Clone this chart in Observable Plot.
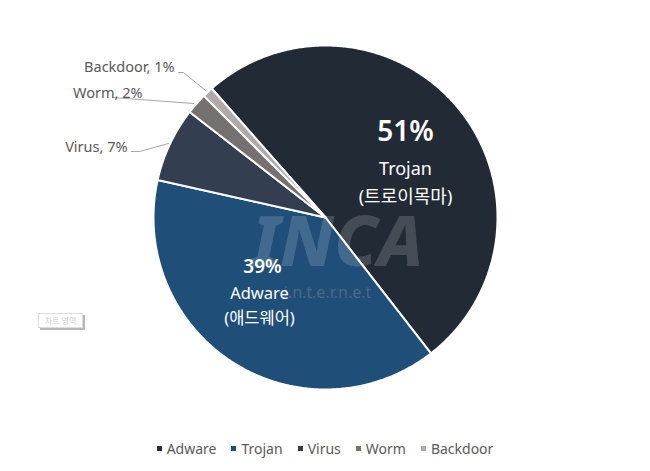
<!DOCTYPE html>
<html><head><meta charset="utf-8">
<script src="https://cdn.jsdelivr.net/npm/d3@7"></script>
<script src="https://cdn.jsdelivr.net/npm/@observablehq/plot@0.6"></script>
<style>
body{margin:0;background:#fff;font-family:"Noto Sans","Noto Sans CJK KR",sans-serif;}
#wrap{position:relative;width:650px;height:471px;overflow:hidden;}
#legend{position:absolute;left:0;top:437px;width:650px;height:22px;display:flex;justify-content:center;align-items:center;gap:15px;font-size:14px;color:#595959;}
#legend .it{display:flex;align-items:center;}
#legend .sw{width:5px;height:5px;margin-right:5px;display:inline-block;}
#tip{position:absolute;left:38px;top:313px;width:43px;height:13px;border:1px solid #dcdcdc;box-shadow:2px 2px 0 #b8b8b8;font-size:8px;line-height:13px;color:#cfcfcf;text-align:center;background:#fff;}
g[aria-label="watermark-sub"] text{letter-spacing:5px;}
</style></head>
<body>
<div id="wrap"><div id="chart"></div><div id="legend"></div><div id="tip">차트 영역</div></div>
<script>
// ---- data ----
const categories = ["Trojan", "Adware", "Virus", "Worm", "Backdoor"];
const shares = [51, 39, 7, 2, 1];
const koreanNames = ["(트로이목마)", "(애드웨어)", "", "", ""];
const sliceColors = ["#222a35", "#1f4e79", "#333f50", "#767171", "#aeaaaa"];
const legendLabels = ["Adware", "Trojan", "Virus", "Worm", "Backdoor"];
const legendColors = ["#222a35", "#1f4e79", "#333f50", "#767171", "#aeaaaa"];

// ---- layout helpers (pixel -> unit circle coords) ----
const CX = 325, CY = 217, R = 172;
const ux = p => (p - CX) / R;
const uy = p => (p - CY) / R;

const rows = categories.map((c, i) => ({name: c, share: shares[i], ko: koreanNames[i]}));
const startDeg = -41.4;
const a0 = startDeg * Math.PI / 180;
const arcs = d3.pie().sort(null).value(d => d.share).startAngle(a0).endAngle(a0 + 2 * Math.PI)(rows);

const pts = [];
for (const a of arcs) {
  const n = Math.max(2, Math.ceil((a.endAngle - a.startAngle) / (Math.PI / 360)));
  pts.push({name: a.data.name, x: 0, y: 0});
  for (let k = 0; k <= n; k++) {
    const t = a.startAngle + (a.endAngle - a.startAngle) * k / n;
    pts.push({name: a.data.name, x: Math.sin(t), y: -Math.cos(t)});
  }
  pts.push({name: a.data.name, x: 0, y: 0});
}

// inside labels
const inside = [
  {name: "Trojan", pct: [405, 132], nm: [405, 169], ko: [405, 196.5], pctSize: 28, nmSize: 18},
  {name: "Adware", pct: [262, 266], nm: [259, 293], ko: [259, 318], pctSize: 19, nmSize: 16.5}
].map(d => ({...d, row: rows.find(r => r.name === d.name)}));

// outside labels
const outside = [
  {name: "Backdoor", at: [174, 67], leader: [[178, 72], [183, 72], [205, 90]]},
  {name: "Worm", at: [142, 93], leader: [[112, 97], [193, 103]]},
  {name: "Virus", at: [127, 147], leader: [[131, 151], [139, 151], [168, 143]]}
].map(d => ({...d, row: rows.find(r => r.name === d.name)}));
const leaderPts = outside.flatMap(d => d.leader.map(([x, y]) => ({name: d.name, x: ux(x), y: uy(y)})));

const font = '"Noto Sans","Noto Sans CJK KR",sans-serif';

const chart = Plot.plot({
  width: 650, height: 425, margin: 0,
  x: {domain: [-1, 1], range: [CX - R, CX + R], axis: null},
  y: {domain: [-1, 1], range: [CY - R, CY + R], axis: null},
  color: {domain: categories, range: sliceColors},
  style: {fontFamily: font, background: "white", overflow: "visible"},
  marks: [
    Plot.line(pts, {x: "x", y: "y", z: "name", fill: "name", stroke: "white", strokeWidth: 2, strokeLinejoin: "round", curve: "linear"}),
    // watermark
    Plot.text(["INCA"], {x: () => ux(337), y: () => uy(243), text: d => d, fill: "white", fillOpacity: 0.16, fontSize: 70, fontWeight: 800, fontStyle: "italic", ariaLabel: "watermark"}),
    Plot.text(["i.n.t.e.r.n.e.t"], {x: () => ux(327), y: () => uy(292), text: d => d, fill: "#8a8a8a", fillOpacity: 0.45, fontSize: 16, ariaLabel: "watermark-sub"}),
    // inside labels
    Plot.text(inside, {x: d => ux(d.pct[0]), y: d => uy(d.pct[1]), text: d => d.row.share + "%", fill: "white", fontSize: d => d.pctSize, fontWeight: 600}),
    Plot.text(inside, {x: d => ux(d.nm[0]), y: d => uy(d.nm[1]), text: d => d.row.name, fill: "white", fontSize: d => d.nmSize}),
    Plot.text(inside, {x: d => ux(d.ko[0]), y: d => uy(d.ko[1]), text: d => d.row.ko, fill: "white", fontSize: d => d.nmSize}),
    // outside labels
    Plot.line(leaderPts, {x: "x", y: "y", z: "name", stroke: "#a6a6a6", strokeWidth: 1, curve: "linear"}),
    Plot.text(outside, {x: d => ux(d.at[0]), y: d => uy(d.at[1]), text: d => `${d.row.name}, ${d.row.share}%`, textAnchor: "end", fill: "#595959", fontSize: 14.5})
  ]
});
document.getElementById("chart").appendChild(chart);

const legend = document.getElementById("legend");
legendLabels.forEach((l, i) => {
  const it = document.createElement("span");
  it.className = "it";
  it.innerHTML = `<span class="sw" style="background:${legendColors[i]}"></span>${l}`;
  legend.appendChild(it);
});
</script>
</body></html>
